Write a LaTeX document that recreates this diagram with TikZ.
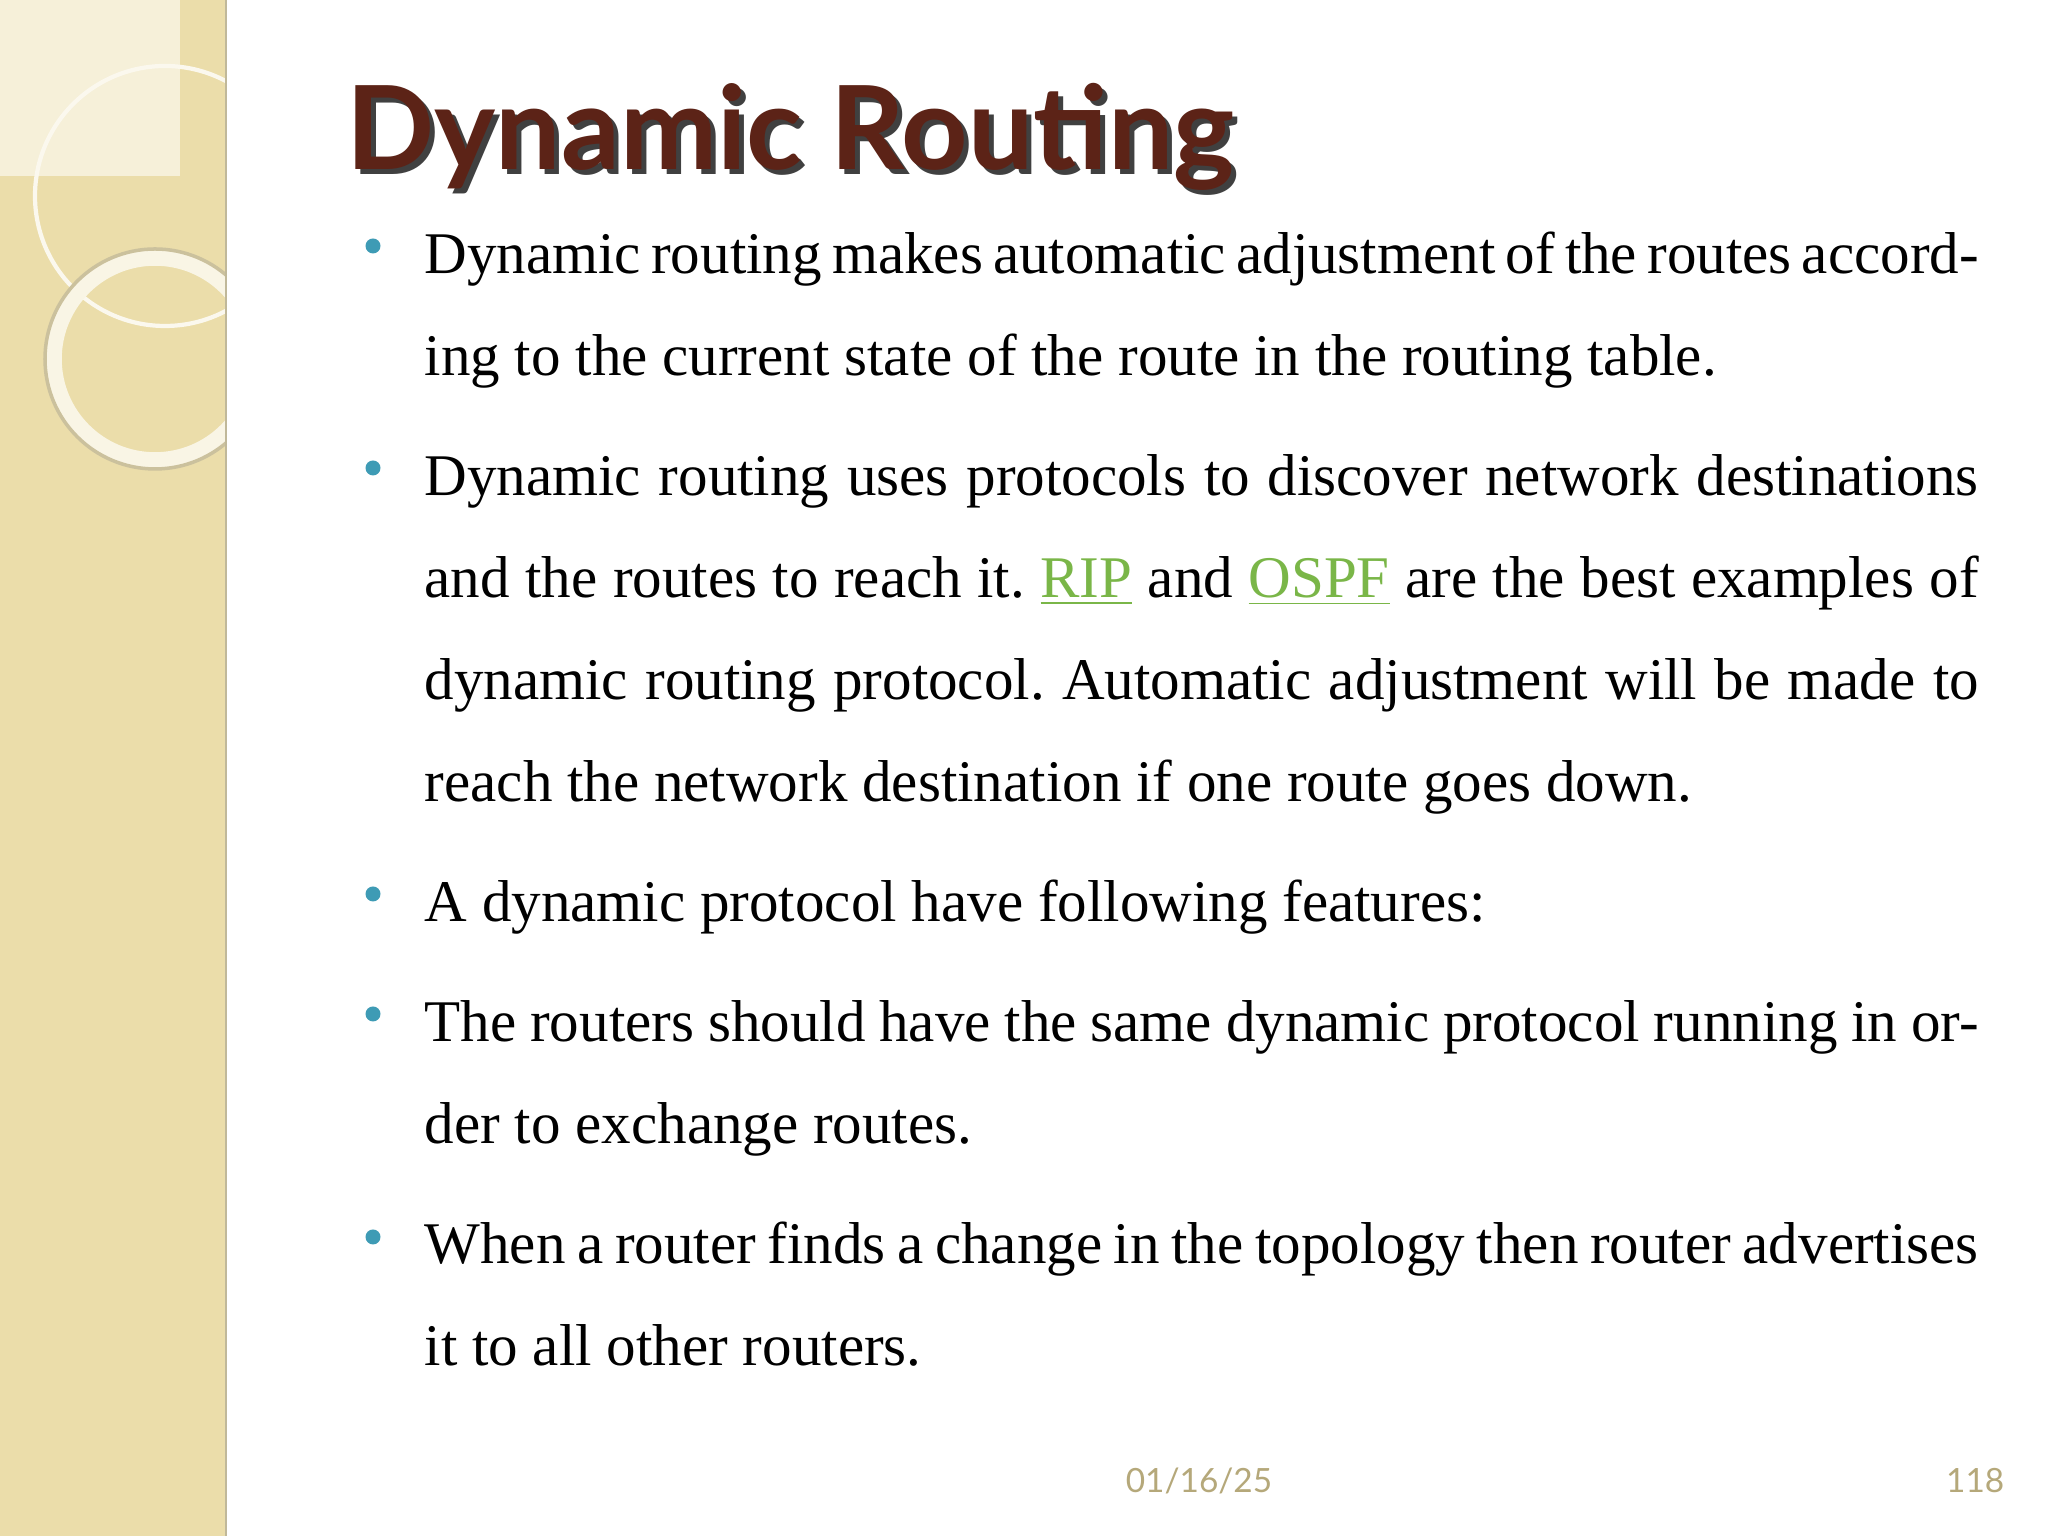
\documentclass[tikz,border=0pt]{standalone}
\usepackage{fontspec}
\setmainfont{Liberation Serif}
\newfontfamily\titlefont{Lato}
\newfontfamily\footfont{Lato}
\definecolor{strip}{HTML}{EBDDAA}
\definecolor{titlec}{HTML}{5C2317}
\definecolor{bulc}{HTML}{3E9BB5}
\definecolor{linkc}{HTML}{7AB648}
\definecolor{footc}{HTML}{B5A87A}
\newcommand{\nohyph}{\hyphenpenalty=10000\relax\exhyphenpenalty=10000\relax\frenchspacing}
\tikzset{
 para/.style={anchor=base west,text width=15.54cm,align=justify,inner sep=0pt,font=\fontsize{16.8}{29}\selectfont},
 bul/.style={circle,fill=bulc,inner sep=0pt,minimum size=0.15cm},
 foot/.style={font=\footfont\fontsize{9.5}{11}\selectfont,text=footc,inner sep=0pt}
}
\newcommand{\lnk}[1]{\textcolor{linkc}{\underline{#1}}}
\begin{document}
\begin{tikzpicture}
\useasboundingbox (0,0) rectangle (20.48,15.36);
\fill[white] (0,0) rectangle (20.48,15.36);
\begin{scope}
\clip (0,0) rectangle (2.26,15.36);
\fill[strip] (0,0) rectangle (2.26,15.36);
\fill[strip!45!white] (0,15.36) rectangle (1.8,13.6);
\draw[white!80!strip,line width=1.2pt] (1.65,13.4) circle (1.3);
\draw[white!70!strip,line width=5pt] (1.55,11.77) circle (1.02);
\draw[strip!70!gray,line width=1pt] (1.55,11.77) circle (1.1);
\end{scope}
\draw[strip!60!gray,line width=0.8pt] (2.26,0) -- (2.26,15.36);
% title
\node[anchor=base west,inner sep=0pt,font=\titlefont\bfseries\fontsize{33}{36}\selectfont,text=black!75] (tshadow) at (3.51,13.61) {Dynamic Routing};
\node[anchor=base west,inner sep=0pt,font=\titlefont\bfseries\fontsize{33}{36}\selectfont,text=titlec] (title) at (3.46,13.66) {Dynamic Routing};
% bullets
\node[bul] (b1) at (3.73,12.90) {};
\node[bul] (b2) at (3.73,10.68) {};
\node[bul] (b3) at (3.73,6.42) {};
\node[bul] (b4) at (3.73,5.22) {};
\node[bul] (b5) at (3.73,2.99) {};
\node[para] (p1) at (4.24,12.62) {\nohyph Dynamic routing makes automatic adjustment of the routes according to the current state of the route in the routing table.};
\node[para] (p2) at (4.24,10.40) {\nohyph Dynamic routing uses protocols to discover network destinations and the routes to reach it. \lnk{RIP} and \lnk{OSPF} are the best examples of dynamic routing protocol. Automatic adjustment will be made to reach the network destination if one route goes down.};
\node[para] (p3) at (4.24,6.14) {\nohyph A dynamic protocol have following features:};
\node[para] (p4) at (4.24,4.94) {\nohyph The routers should have the same dynamic protocol running in order to exchange routes.};
\node[para] (p5) at (4.24,2.72) {\nohyph When a router finds a change in the topology then router advertises it to all other routers.};
\node[foot,anchor=base] (date) at (11.99,0.43) {01/16/25};
\node[foot,anchor=base east] (pg) at (20.05,0.43) {118};
\end{tikzpicture}
\end{document}
